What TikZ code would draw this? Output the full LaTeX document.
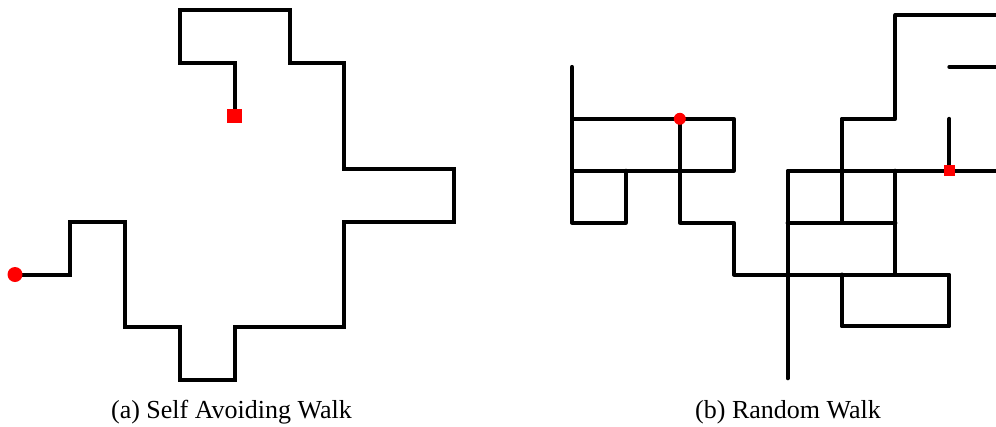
\documentclass[tikz,border=0pt]{standalone}
\usepackage{fontspec}
\setmainfont{Liberation Serif}
\tikzset{
  walkline/.style={line width=4pt, black},
  sawline/.style={walkline, line join=miter, line cap=butt},
  rwline/.style={walkline, line join=round, line cap=round},
  captext/.style={font=\fontsize{26}{30}\selectfont, anchor=base, inner sep=0pt},
}
\begin{document}
\begin{tikzpicture}[x=1pt,y=-1pt]
\useasboundingbox (0,0) rectangle (996,426);
% Self avoiding walk: grid origin (15,10), spacing 54.9 x 52.9
\begin{scope}[shift={(15,10)}, x=54.9pt, y=-52.9pt]
  \draw[sawline] (0,5) -- (1,5) -- (1,4) -- (2,4) -- (2,6) -- (3,6) -- (3,7) -- (4,7)
    -- (4,6) -- (6,6) -- (6,4) -- (8,4) -- (8,3) -- (6,3) -- (6,1) -- (5,1) -- (5,0)
    -- (3,0) -- (3,1) -- (4,1) -- (4,2);
  \coordinate (sawstart) at (0,5);
  \coordinate (sawend) at (4,2);
\end{scope}
\fill[red] (sawstart) circle[radius=7.5pt];
\fill[red] ([shift={(-7.3pt,-7.3pt)}]sawend) rectangle ([shift={(7.3pt,7.3pt)}]sawend);
% Random walk: grid origin (572,15), spacing 53.9 x 51.9
\begin{scope}
\clip (0,0) rectangle (996,426);
\begin{scope}[shift={(572,15)}, x=53.9pt, y=-51.9pt]
  \draw[rwline] (0,1) -- (0,4) -- (1,4) -- (1,3);
  \draw[rwline] (0,2) -- (3,2) -- (3,3) -- (0,3);
  \draw[rwline] (2,2) -- (2,4) -- (3,4) -- (3,5) -- (7,5) -- (7,6) -- (5,6) -- (5,5);
  \draw[rwline] (4,7) -- (4,3) -- (8.3,3);
  \draw[rwline] (4,4) -- (6,4);
  \draw[rwline] (6,3) -- (6,5);
  \draw[rwline] (5,4) -- (5,2) -- (6,2) -- (6,0) -- (8.3,0);
  \draw[rwline] (7,1) -- (8.3,1);
  \draw[rwline] (7,2) -- (7,3);
  \coordinate (rwstart) at (2,2);
  \coordinate (rwend) at (7,3);
\end{scope}
\end{scope}
\fill[red] (rwstart) circle[radius=6pt];
\fill[red] ([shift={(-5.5pt,-5.5pt)}]rwend) rectangle ([shift={(5.5pt,5.5pt)}]rwend);
% Captions
\node[captext] (capa) at (231.5,418) {(a) Self Avoiding Walk};
\node[captext] (capb) at (788,418) {(b) Random Walk};
\end{tikzpicture}
\end{document}
